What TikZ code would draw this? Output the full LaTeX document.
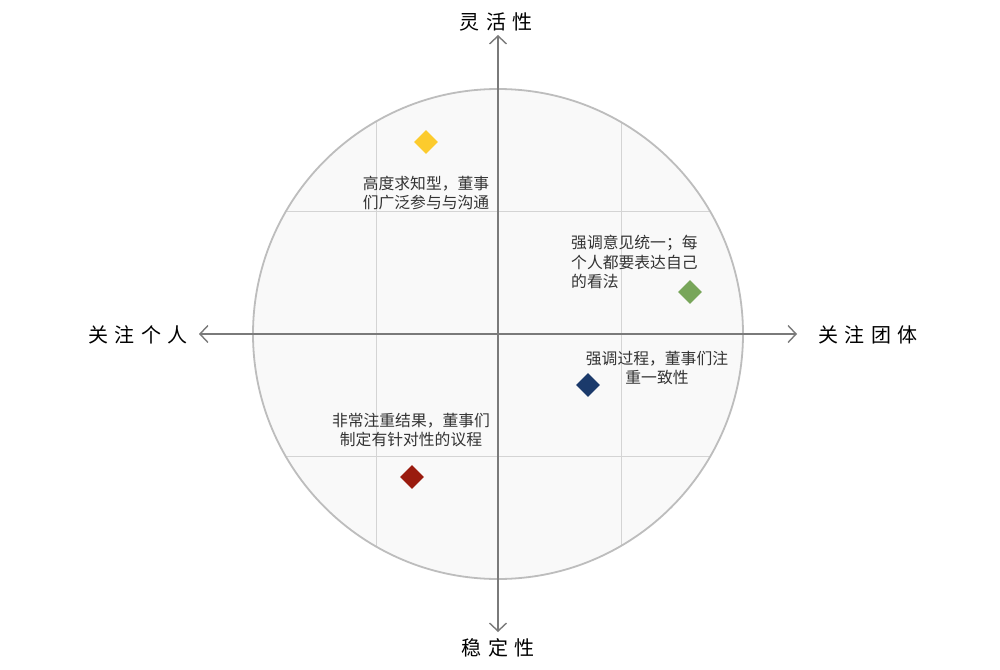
\documentclass[tikz,border=0pt]{standalone}
\usepackage{fontspec}
\setmainfont{Noto Sans CJK SC}
\usetikzlibrary{arrows.meta,shapes.geometric}
\definecolor{axisgray}{HTML}{7A7A7A}
\definecolor{circgray}{HTML}{BDBDBD}
\definecolor{gridgray}{HTML}{D4D4D4}
\definecolor{bgfill}{HTML}{F9F9F9}
\definecolor{txt}{HTML}{333333}
\definecolor{cyellow}{HTML}{FCCB2D}
\definecolor{cgreen}{HTML}{78A65A}
\definecolor{cnavy}{HTML}{1B3A6B}
\definecolor{cred}{HTML}{9A1B0E}
\tikzset{
  x=1pt,y=-1pt,
  axis/.style={draw=axisgray,line width=1.4pt,arrows={Straight Barb[length=8pt,width=17pt,line width=1.4pt]-Straight Barb[length=8pt,width=17pt,line width=1.4pt]}},
  gridline/.style={draw=gridgray,line width=0.9pt},
  axislabel/.style={font=\fontsize{20}{24}\selectfont,text=black,inner sep=0pt},
  note/.style={font=\fontsize{15.8}{19.5}\selectfont,text=txt,inner sep=0pt},
  marker/.style={diamond,minimum width=24pt,minimum height=24pt,inner sep=0pt}
}
\newcommand{\lsp}{\hspace{6.5pt}}
\begin{document}
\begin{tikzpicture}
\useasboundingbox (0,0) rectangle (1000,669);
\fill[white] (0,0) rectangle (1000,669);
% circle with grid
\coordinate (c) at (498,334);
\fill[bgfill] (c) circle[radius=245];
\begin{scope}
  \clip (c) circle[radius=245];
  \draw[gridline] (376,80) -- (376,590);
  \draw[gridline] (621,80) -- (621,590);
  \draw[gridline] (240,211) -- (760,211);
  \draw[gridline] (240,456) -- (760,456);
\end{scope}
\draw[circgray,line width=1.8pt] (c) circle[radius=245];
% axes
\coordinate (top) at (498,35);
\coordinate (bot) at (498,632);
\coordinate (left) at (199,334);
\coordinate (right) at (797,334);
\draw[axis] (bot) -- (top);
\draw[axis] (left) -- (right);
% axis labels
\node[axislabel] (lt) at (496,22) {灵\lsp 活\lsp 性};
\node[axislabel] (lb) at (498,648) {稳\lsp 定\lsp 性};
\node[axislabel] (ll) at (138,335) {关\lsp 注\lsp 个\lsp 人};
\node[axislabel] (lr) at (868,335) {关\lsp 注\lsp 团\lsp 体};
% markers
\node[marker,fill=cyellow] (m1) at (426,142) {};
\node[marker,fill=cgreen] (m2) at (690,292) {};
\node[marker,fill=cnavy] (m3) at (588,385) {};
\node[marker,fill=cred] (m4) at (412,477) {};
% notes
\node[note,align=center] (n1) at (426,193) {高度求知型，董事\\们广泛参与与沟通};
\node[note,align=left,anchor=north west] (n2) at (571,235) {强调意见统一；每\\个人都要表达自己\\的看法};
\node[note,align=center] (n3) at (657,368) {强调过程，董事们注\\重一致性};
\node[note,align=center] (n4) at (411,430) {非常注重结果，董事们\\制定有针对性的议程};
\end{tikzpicture}
\end{document}
